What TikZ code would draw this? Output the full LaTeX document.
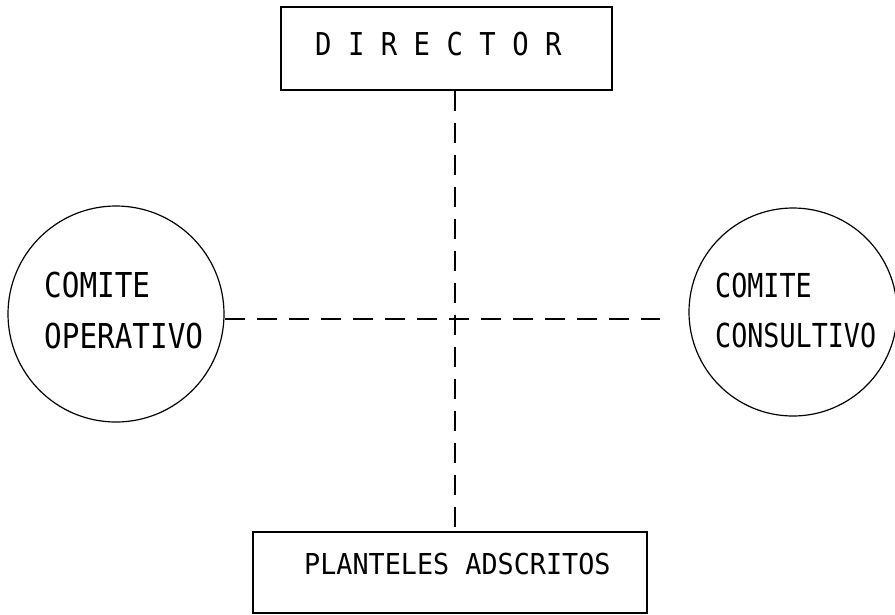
\documentclass[tikz,border=0pt]{standalone}
\usepackage{graphicx}
\usepackage{fontspec}
\newfontfamily\tw{DejaVu Sans Mono}
\tikzset{
  boxnode/.style={draw, line width=1.2pt, rectangle, inner sep=0pt},
  circnode/.style={draw, line width=1.2pt, circle, inner sep=0pt},
  lbl/.style={anchor=base west, inner sep=0pt},
  dashline/.style={line width=1.5pt, dash pattern=on 20pt off 12pt},
}
\newcommand{\twtext}[3]{\scalebox{#2}[1]{\tw\fontsize{#1}{#1}\selectfont #3}}
\begin{document}
\begin{tikzpicture}[x=1pt,y=-1pt]
\useasboundingbox (0,0) rectangle (895,614);
% boxes
\node[boxnode, minimum width=331pt, minimum height=83pt] (dir) at (446.5,48.5) {};
\node[boxnode, minimum width=394pt, minimum height=81pt] (plant) at (450,572.5) {};
% circles
\node[circnode, minimum size=216pt] (op) at (116,314) {};
\node[circnode, minimum size=208pt] (cons) at (793,312) {};
% labels
\node[lbl] (tdir) at (315,55) {\twtext{31.5}{0.866}{D I R E C T O R}};
\node[lbl] (top1) at (44,297) {\twtext{34.3}{0.855}{COMITE}};
\node[lbl] (top2) at (44,348) {\twtext{34.3}{0.855}{OPERATIVO}};
\node[lbl] (tco1) at (715,297) {\twtext{33}{0.81}{COMITE}};
\node[lbl] (tco2) at (715,347) {\twtext{33}{0.81}{CONSULTIVO}};
\node[lbl] (tpl) at (304,574) {\twtext{28.8}{0.93}{PLANTELES ADSCRITOS}};
% connectors
\coordinate (vx) at (455,319);
\draw[dashline] (dir.south -| vx) -- (plant.north -| vx);
\draw[dashline, shorten >=28pt] (op.east |- vx) -- (cons.west |- vx);
\end{tikzpicture}
\end{document}
